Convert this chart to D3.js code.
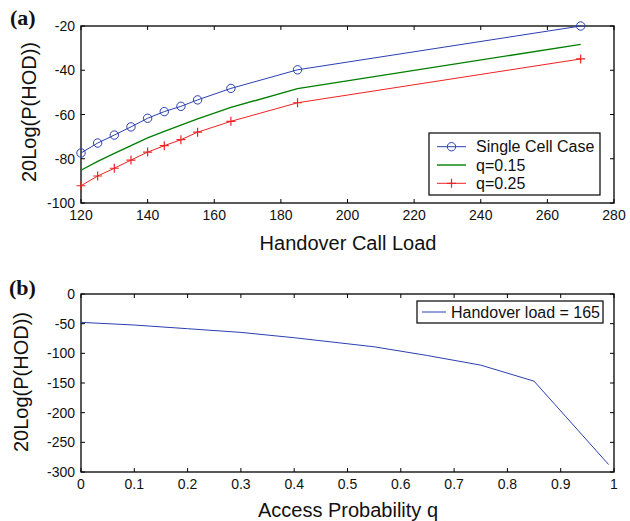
<!DOCTYPE html>
<html>
<head>
<meta charset="utf-8">
<script src="https://cdn.jsdelivr.net/npm/d3@7"></script>
<style>
body { margin: 0; background: #fff; }
svg { display: block; }
text { font-family: "Liberation Sans", Arial, sans-serif; fill: #111; }
</style>
</head>
<body>
<script>
var Width = 630;
var Height = 521;

// panel (a) data
var loadA = [120, 125, 130, 135, 140, 145, 150, 155, 165, 185, 270];
var singleCell = [-77.4, -72.9, -69.3, -65.6, -61.7, -58.7, -56.3, -53.4, -48.2, -39.8, -20];
var q015 = [-85.2, -81.2, -77.6, -74.1, -70.6, -67.6, -64.8, -62.0, -56.8, -48.3, -28.3];
var q025 = [-92.2, -87.8, -84.3, -80.6, -77.0, -74.1, -71.4, -68.0, -63.1, -54.7, -34.9];
var xTicksA = [120, 140, 160, 180, 200, 220, 240, 260, 280];
var yTicksA = [-100, -80, -60, -40, -20];

// panel (b) data
var accessQ = [0, 0.1, 0.2, 0.3, 0.4, 0.55, 0.65, 0.75, 0.85, 0.99];
var hodB = [-47.8, -52.3, -58.5, -64.7, -73.7, -89, -103.7, -119.9, -146.9, -287.5];
var xTicksB = [0, 0.1, 0.2, 0.3, 0.4, 0.5, 0.6, 0.7, 0.8, 0.9, 1];
var yTicksB = [-300, -250, -200, -150, -100, -50, 0];

var svg = d3.select("body").append("svg")
	.attr("width", Width)
	.attr("height", Height);

function drawFrame(x, y, xTicks, yTicks) {
	var g = svg.append("g");
	var x0 = x.range()[0], x1 = x.range()[1];
	var y0 = y.range()[0], y1 = y.range()[1];
	// inner ticks on all four sides, matlab style
	xTicks.forEach(function (t) {
		g.append("line").attr("x1", x(t)).attr("x2", x(t)).attr("y1", y0).attr("y2", y0 - 4)
			.attr("stroke", "#000").attr("stroke-width", 1);
		g.append("line").attr("x1", x(t)).attr("x2", x(t)).attr("y1", y1).attr("y2", y1 + 4)
			.attr("stroke", "#000").attr("stroke-width", 1);
		g.append("text").attr("x", x(t)).attr("y", y0 + 17)
			.attr("text-anchor", "middle").attr("font-size", 14).text(t);
	});
	yTicks.forEach(function (t) {
		g.append("line").attr("x1", x0).attr("x2", x0 + 4).attr("y1", y(t)).attr("y2", y(t))
			.attr("stroke", "#000").attr("stroke-width", 1);
		g.append("line").attr("x1", x1).attr("x2", x1 - 4).attr("y1", y(t)).attr("y2", y(t))
			.attr("stroke", "#000").attr("stroke-width", 1);
		g.append("text").attr("x", x0 - 6).attr("y", y(t) + 5)
			.attr("text-anchor", "end").attr("font-size", 14).text(t);
	});
	g.append("rect").attr("x", x0).attr("y", y1).attr("width", x1 - x0).attr("height", y0 - y1)
		.attr("fill", "none").attr("stroke", "#000").attr("stroke-width", 1.3);
	return g;
}

function circleMark(g, cx, cy, color) {
	g.append("circle").attr("cx", cx).attr("cy", cy).attr("r", 4.2)
		.attr("fill", "none").attr("stroke", color).attr("stroke-width", 1);
}

function plusMark(g, cx, cy, color) {
	g.append("path").attr("d", "M" + (cx - 4.5) + "," + cy + "h9M" + cx + "," + (cy - 4.5) + "v9")
		.attr("stroke", color).attr("stroke-width", 1.2);
}

// ---------- panel (a) ----------
var xA = d3.scaleLinear().domain([120, 280]).range([81, 614]);
var yA = d3.scaleLinear().domain([-100, -20]).range([203, 26]);
var gA = drawFrame(xA, yA, xTicksA, yTicksA);

var lineA = function (vals) {
	return d3.line().x(function (d, i) { return xA(loadA[i]); }).y(function (d) { return yA(d); })(vals);
};

gA.append("path").attr("d", lineA(q015)).attr("fill", "none").attr("stroke", "#007f00").attr("stroke-width", 1.4);
gA.append("path").attr("d", lineA(q025)).attr("fill", "none").attr("stroke", "#ee2222").attr("stroke-width", 1);
gA.append("path").attr("d", lineA(singleCell)).attr("fill", "none").attr("stroke", "#2a3fb0").attr("stroke-width", 1);
singleCell.forEach(function (d, i) { circleMark(gA, xA(loadA[i]), yA(d), "#2a3fb0"); });
q025.forEach(function (d, i) { plusMark(gA, xA(loadA[i]), yA(d), "#ee2222"); });

// legend (a)
var legA = gA.append("g");
legA.append("rect").attr("x", 429).attr("y", 133).attr("width", 171).attr("height", 62)
	.attr("fill", "#fff").attr("stroke", "#000").attr("stroke-width", 1.2);
var legItemsA = [
	{ name: "Single Cell Case", color: "#2a3fb0", mark: "circle" },
	{ name: "q=0.15", color: "#007f00", mark: "none" },
	{ name: "q=0.25", color: "#ee2222", mark: "plus" }
];
legItemsA.forEach(function (it, i) {
	var ly = 146.7 + i * 18.3;
	legA.append("line").attr("x1", 437).attr("x2", 466).attr("y1", ly).attr("y2", ly)
		.attr("stroke", it.color).attr("stroke-width", it.mark == "none" ? 1.4 : 1);
	if (it.mark == "circle") circleMark(legA, 451.5, ly, it.color);
	if (it.mark == "plus") plusMark(legA, 451.5, ly, it.color);
	legA.append("text").attr("x", 476).attr("y", ly + 5.7).attr("font-size", 16).text(it.name);
});

svg.append("text").attr("x", 348).attr("y", 250).attr("text-anchor", "middle")
	.attr("font-size", 20).text("Handover Call Load");
svg.append("text").attr("transform", "translate(36,112) rotate(-90)").attr("text-anchor", "middle")
	.attr("font-size", 20).text("20Log(P(HOD))");
svg.append("text").attr("x", 10).attr("y", 25).attr("font-size", 22).attr("font-weight", "bold")
	.style("font-family", "'Liberation Serif', 'Times New Roman', serif").text("(a)");

// ---------- panel (b) ----------
var xB = d3.scaleLinear().domain([0, 1]).range([81, 614]);
var yB = d3.scaleLinear().domain([-300, 0]).range([472, 294]);
var gB = drawFrame(xB, yB, xTicksB, yTicksB);

gB.append("path")
	.attr("d", d3.line().x(function (d, i) { return xB(accessQ[i]); }).y(function (d) { return yB(d); })(hodB))
	.attr("fill", "none").attr("stroke", "#2a3fb0").attr("stroke-width", 1);

var legB = gB.append("g");
legB.append("rect").attr("x", 417).attr("y", 301).attr("width", 186).attr("height", 22)
	.attr("fill", "#fff").attr("stroke", "#000").attr("stroke-width", 1.2);
legB.append("line").attr("x1", 422).attr("x2", 446).attr("y1", 312).attr("y2", 312)
	.attr("stroke", "#2a3fb0").attr("stroke-width", 1);
legB.append("text").attr("x", 451).attr("y", 318).attr("font-size", 16).text("Handover load = 165");

svg.append("text").attr("x", 348).attr("y", 517).attr("text-anchor", "middle")
	.attr("font-size", 20).text("Access Probability q");
svg.append("text").attr("transform", "translate(28,382) rotate(-90)").attr("text-anchor", "middle")
	.attr("font-size", 20).text("20Log(P(HOD))");
svg.append("text").attr("x", 9).attr("y", 295).attr("font-size", 22).attr("font-weight", "bold")
	.style("font-family", "'Liberation Serif', 'Times New Roman', serif").text("(b)");
</script>
</body>
</html>
